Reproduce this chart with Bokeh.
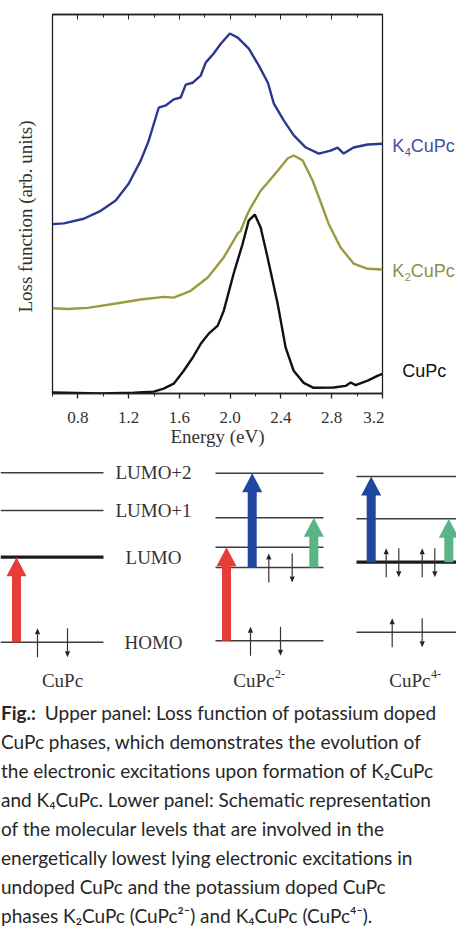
import math
from bokeh.plotting import figure
from bokeh.models import Range1d, LinearAxis, FixedTicker
from bokeh.layouts import column, row
from bokeh.embed import file_html
from bokeh.resources import INLINE
from bokeh.core.properties import value

# ---------------- data: loss function curves (energy in eV, arb. units) ----------------
k4_e = [0.600, 0.689, 0.846, 0.980, 1.098, 1.201, 1.296, 1.358, 1.437, 1.492, 1.555, 1.610,
        1.650, 1.705, 1.768, 1.807, 1.870, 1.926, 1.997, 2.060, 2.147, 2.226, 2.297, 2.344,
        2.423, 2.501, 2.596, 2.698, 2.791, 2.846, 2.894, 2.972, 3.083, 3.200]
k4_y = [44.7, 44.9, 46.1, 48.2, 50.9, 55.4, 61.5, 66.7, 75.4, 76.0, 77.6, 78.1,
        81.5, 82.0, 83.9, 87.3, 89.7, 92.3, 95.0, 93.9, 91.0, 86.5, 82.0, 76.5,
        72.0, 68.1, 64.9, 63.3, 64.1, 64.9, 63.3, 64.9, 65.7, 65.9]

k2_e = [0.602, 0.720, 0.878, 1.114, 1.295, 1.476, 1.555, 1.689, 1.823, 1.949,
        2.059, 2.083, 2.138, 2.161, 2.240, 2.295, 2.374, 2.452, 2.500, 2.571,
        2.649, 2.712, 2.775, 2.870, 2.972, 3.083, 3.200]
k2_y = [22.5, 22.3, 22.6, 23.8, 24.8, 25.5, 25.3, 27.1, 30.6, 35.9,
        42.2, 43.0, 47.5, 49.0, 53.5, 55.6, 58.8, 62.0, 62.8, 61.5,
        56.2, 50.6, 44.8, 38.5, 34.3, 32.9, 32.7]

cupc_e = [0.602, 0.980, 1.240, 1.398, 1.476, 1.555, 1.634, 1.705, 1.768, 1.831,
          1.902, 1.949, 2.027, 2.098, 2.146, 2.194, 2.240, 2.295, 2.374, 2.437,
          2.500, 2.579, 2.657, 2.815, 2.909, 2.949, 2.988, 3.083, 3.164, 3.200]
cupc_y = [0.3, 0.0, 0.2, 0.5, 1.3, 2.6, 6.0, 9.5, 13.1, 15.8,
          17.9, 21.8, 31.6, 39.5, 45.6, 47.2, 43.8, 35.8, 23.7, 12.1,
          6.0, 2.8, 1.5, 1.6, 2.0, 2.9, 2.2, 3.4, 4.7, 5.2]

major_ticks = [0.8, 1.2, 1.6, 2.0, 2.4, 2.8, 3.2]
tick_labels = ["0.8", "1.2", "1.6", "2.0", "2.4", "2.8", "3.2"]
minor_ticks = [0.6, 1.0, 1.4, 1.8, 2.2, 2.6, 3.0]
y_title = "Loss function (arb. units)"
x_title = "Energy (eV)"

# ---------------- data: schematic level diagram (arbitrary energy units) ----------------
level_names = ["HOMO", "LUMO", "LUMO+1", "LUMO+2"]
cupc_levels = [48.3, 133.3, 180.0, 217.7]
cupc2_levels = [49.7, 123.0, 143.3, 172.7, 217.3]
cupc4_levels = [58.3, 128.3, 171.7, 214.0]

trans_from = [48.3, 49.7, 123.0, 123.0, 128.3, 128.3]
trans_to = [133.3, 143.3, 217.3, 172.7, 214.0, 171.7]
trans_kind = ["red", "red", "blue", "green", "blue", "green"]

spin_level = [48.3, 48.3, 49.7, 49.7, 123.0, 123.0, 128.3, 128.3, 128.3, 128.3, 58.3, 58.3]
spin_dir = [1, -1, 1, -1, 1, -1, 1, -1, 1, -1, 1, -1]

caption_lines = [
    "Upper panel: Loss function of potassium doped",
    "CuPc phases, which demonstrates the evolution of",
    "the electronic excitations upon formation of K\u2082CuPc",
    "and K\u2084CuPc. Lower panel: Schematic representation",
    "of the molecular levels that are involved in the",
    "energetically lowest lying electronic excitations in",
    "undoped CuPc and the potassium doped CuPc",
    "phases K\u2082CuPc (CuPc\u00b2\u207b) and K\u2084CuPc (CuPc\u2074\u207b).",
]

# ---------------- styles / layout ----------------
SERIF = "Liberation Serif"
SANS = "Liberation Sans"
C_BLUE = "#2a3990"
C_OLIVE = "#9b9a3e"
C_BLACK = "#111111"
AX = "#222222"
TOP_H = 455
STRIP_L = 51
MAIN_W = 384 - STRIP_L

# ---- left strip carrying the vertical axis title ----
ps = figure(width=STRIP_L, height=TOP_H, x_range=Range1d(0, STRIP_L), y_range=Range1d(0, 100),
            min_border_left=0, min_border_right=0, min_border_top=14, min_border_bottom=62,
            x_axis_location=None, y_axis_location=None,
            output_backend="svg", toolbar_location=None)
ps.frame_align = False
ps.grid.visible = False
ps.outline_line_color = None

# ================= upper panel =================
p1 = figure(width=MAIN_W, height=TOP_H, x_range=Range1d(0.6, 3.2), y_range=ps.y_range,
            min_border_left=1, min_border_right=2, min_border_top=14, min_border_bottom=62,
            y_axis_location=None, output_backend="svg", toolbar_location=None)
p1.frame_align = False
p1.xgrid.visible = False
p1.ygrid.visible = False
p1.outline_line_color = AX
p1.outline_line_width = 1.3

p1.line(k4_e, k4_y, line_color=C_BLUE, line_width=2.4)
p1.line(k2_e, k2_y, line_color=C_OLIVE, line_width=2.4)
p1.line(cupc_e, cupc_y, line_color=C_BLACK, line_width=2.4)

xa = p1.xaxis[0]
xa.ticker = FixedTicker(ticks=major_ticks, minor_ticks=minor_ticks)
xa.major_label_overrides = dict(zip(major_ticks, tick_labels))
xa.major_tick_in = 0
xa.major_tick_out = 5
xa.minor_tick_in = 0
xa.minor_tick_out = 3
xa.axis_line_color = AX
xa.axis_line_width = 1.3
xa.major_tick_line_color = AX
xa.minor_tick_line_color = AX
xa.major_tick_line_width = 1.3
xa.major_label_text_font = SERIF
xa.major_label_text_font_size = "17px"
xa.major_label_text_color = "#333333"
xa.major_label_standoff = 13
xa.axis_label = x_title
xa.axis_label_text_font = SERIF
xa.axis_label_text_font_size = "19px"
xa.axis_label_text_font_style = "normal"
xa.axis_label_text_color = "#333333"
xa.axis_label_standoff = 0

top = LinearAxis(ticker=FixedTicker(ticks=major_ticks, minor_ticks=minor_ticks),
                 major_label_overrides={t: "" for t in major_ticks},
                 major_tick_in=5, major_tick_out=0,
                 minor_tick_in=3, minor_tick_out=0, axis_line_color=AX, axis_line_width=1.3,
                 major_tick_line_color=AX, minor_tick_line_color=AX, major_label_standoff=0)
p1.add_layout(top, "above")

# vertical axis title, centred a little below the frame middle as in the original
ps.text(x=[25], y=[46.7], text=[y_title], angle=math.pi / 2, text_align="center",
        text_baseline="middle", text_font=value(SERIF), text_font_size="19px",
        text_color="#333333")

# ---- curve labels in a narrow strip sharing the y scale ----
pl = figure(width=456 - 384, height=TOP_H, x_range=Range1d(384, 456), y_range=ps.y_range,
            min_border_left=0, min_border_right=0, min_border_top=14, min_border_bottom=62,
            x_axis_location=None, y_axis_location=None,
            output_backend="svg", toolbar_location=None)
pl.frame_align = False
pl.grid.visible = False
pl.outline_line_color = None

def sub_label(fig, x, y, pre, sub, post, color, dy):
    kw = dict(text_baseline="middle", text_font=value(SANS), text_color=color)
    fig.text(x=[x], y=[y], text=[pre], y_offset=dy, text_font_size="18px", **kw)
    fig.text(x=[x], y=[y], text=[sub], x_offset=12.5, y_offset=dy + 6,
             text_font_size="11px", **kw)
    fig.text(x=[x], y=[y], text=[post], x_offset=18.5, y_offset=dy,
             text_font_size="18px", **kw)

sub_label(pl, 391.7, k4_y[-1], "K", "4", "CuPc", "#44519e", 2.5)
sub_label(pl, 391.7, k2_y[-1], "K", "2", "CuPc", "#8e8f44", 1.5)
pl.text(x=[401.7], y=[cupc_y[-1]], text=["CuPc"], y_offset=-3, text_baseline="middle",
        text_font=value(SANS), text_font_size="18px", text_color=C_BLACK)

# ================= level diagram =================
p2 = figure(width=456, height=235, x_range=Range1d(0, 456), y_range=Range1d(0, 235),
            min_border=0, x_axis_location=None, y_axis_location=None,
            output_backend="svg", toolbar_location=None)
p2.frame_align = False
p2.grid.visible = False
p2.outline_line_color = None

col_left = [0, 215, 356]
col_right = [103, 323, 456]
all_levels = [cupc_levels, cupc2_levels, cupc4_levels]
thick = {(0, 133.3), (2, 128.3)}

for ci, levs in enumerate(all_levels):
    for lv in levs:
        is_thick = (ci, lv) in thick
        p2.segment(x0=[col_left[ci]], y0=[lv], x1=[col_right[ci]], y1=[lv],
                   line_color="#1c1c1c" if is_thick else "#3c3c3c",
                   line_width=3.2 if is_thick else 1.6)

p2.text(x=[153] * 4, y=cupc_levels, text=level_names, text_align="center",
        text_baseline="middle", text_font=value(SERIF), text_font_size="19px",
        text_color="#333333")

# excitation arrows
arrow_x = [16, 226, 251.7, 313.3, 370.7, 448.3]
kind_color = {"red": "#e63d3a", "blue": "#1f47a0", "green": "#5ab584"}
SH, HH, HL = 4.5, 10.0, 19.0
xs, ys, cs = [], [], []
for xc, y0, y1, k in zip(arrow_x, trans_from, trans_to, trans_kind):
    xs.append([xc - SH, xc - SH, xc - HH, xc, xc + HH, xc + SH, xc + SH])
    ys.append([y0, y1 - HL, y1 - HL, y1, y1 - HL, y1 - HL, y0])
    cs.append(kind_color[k])
p2.patches(xs, ys, fill_color=cs, line_color=None)

# spin arrows
spin_x = [37, 67, 250, 280, 268.3, 291.7, 385.7, 398.3, 421.7, 434.3, 391.7, 421.7]
LOW, HIGH = 15.0, 14.0
sx0, sy0, sx1, sy1, tx, ty = [], [], [], [], [], []
for xc, lv, d in zip(spin_x, spin_level, spin_dir):
    if d > 0:
        tail, tip = lv - LOW, lv + HIGH
    else:
        tail, tip = lv + HIGH, lv - LOW
    base = tip - d * 6
    sx0.append(xc); sy0.append(tail); sx1.append(xc); sy1.append(base)
    tx.append([xc - 2.6, xc, xc + 2.6]); ty.append([base, tip, base])
p2.segment(x0=sx0, y0=sy0, x1=sx1, y1=sy1, line_color="#333333", line_width=1.2)
p2.patches(tx, ty, fill_color="#222222", line_color=None)

# species labels
p2.text(x=[62], y=[10.0], text=["CuPc"], text_align="center", text_baseline="alphabetic",
        text_font=value(SERIF), text_font_size="19px", text_color="#333333")
for xs_main, sup in [(274, "2-"), (430, "4-")]:
    p2.text(x=[xs_main], y=[10.0], text=["CuPc"], text_align="right",
            text_baseline="alphabetic", text_font=value(SERIF), text_font_size="19px",
            text_color="#333333")
    p2.text(x=[xs_main + 0.5], y=[17.0], text=[sup], text_align="left",
            text_baseline="alphabetic", text_font=value(SERIF), text_font_size="12px",
            text_color="#333333")

# ================= caption =================
p3 = figure(width=456, height=236, x_range=Range1d(0, 456), y_range=Range1d(236, 0),
            min_border=0, x_axis_location=None, y_axis_location=None,
            output_backend="svg", toolbar_location=None)
p3.frame_align = False
p3.grid.visible = False
p3.outline_line_color = None
line_y = [22.3 + 28.96 * i for i in range(len(caption_lines))]
CAP = "Lato"
p3.text(x=[0.5], y=[line_y[0]], text=["Fig.:"], text_baseline="middle",
        text_font=value(CAP), text_font_style="bold", text_font_size="19px",
        text_color="#262626")
p3.text(x=[44.3] + [0.5] * (len(caption_lines) - 1), y=line_y, text=caption_lines,
        text_baseline="middle", text_font=value(CAP), text_font_size="19px",
        text_color="#262626")

layout = column(row(ps, p1, pl, spacing=0), p2, p3, spacing=0)
open("out.html", "w").write(file_html(layout, INLINE))
